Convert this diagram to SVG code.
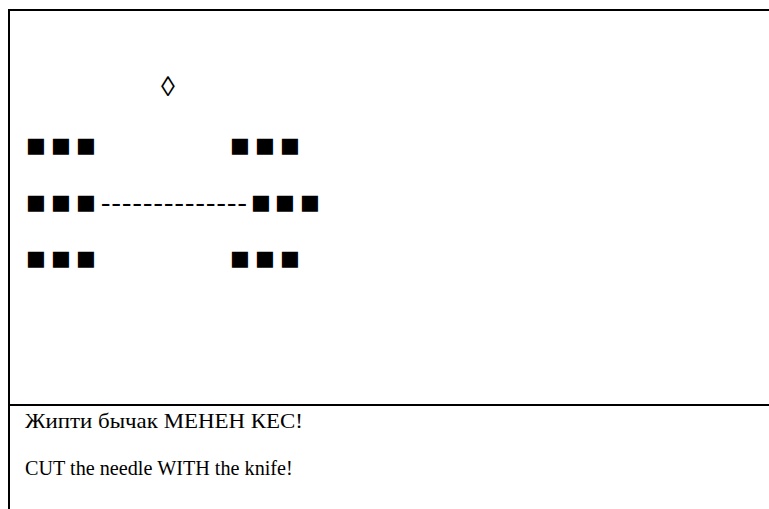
<svg xmlns="http://www.w3.org/2000/svg" width="769" height="509" viewBox="0 0 769 509">
<style>
.s{font-family:'DejaVu Sans',sans-serif;fill:#000;font-size:21px}
.h{fill:#000;font-size:28px}
.t{fill:#000;font-size:20.2px}
.ln{stroke:#000;stroke-width:2;fill:none}
</style>
<rect width="769" height="509" fill="#fff"/>
<g id="frame">
<line class="ln" x1="9" y1="10" x2="769" y2="10"/>
<line class="ln" x1="9" y1="9" x2="9" y2="509"/>
<line class="ln" x1="9" y1="405" x2="769" y2="405"/>
</g>
<g id="diamond"><text class="h" font-family="Liberation Serif, DejaVu Serif, serif" x="161" y="96">◊</text></g>
<g id="row1"><text class="s" x="26 51 76" y="152">■■■</text><text class="s" x="230 255 280" y="152">■■■</text></g>
<g id="row2"><text class="s" x="26 51 76" y="209">■■■</text><text class="h" font-family="Liberation Serif, DejaVu Serif, serif" x="101 111.5 122 132.5 143 153.5 164 174.5 185 195.5 206 216.5 227 237.5" y="211">--------------</text><text class="s" x="251 275 300" y="209">■■■</text></g>
<g id="row3"><text class="s" x="26 51 76" y="265">■■■</text><text class="s" x="230 255 280" y="265">■■■</text></g>
<g id="caption">
<text class="t" font-family="Liberation Serif, DejaVu Serif, serif" font-size="21" x="25" y="428" textLength="278" lengthAdjust="spacingAndGlyphs">Жипти бычак МЕНЕН КЕС!</text>
<text class="t" font-family="Liberation Serif, DejaVu Serif, serif" x="25" y="475">CUT the needle WITH the knife!</text>
</g>
</svg>
